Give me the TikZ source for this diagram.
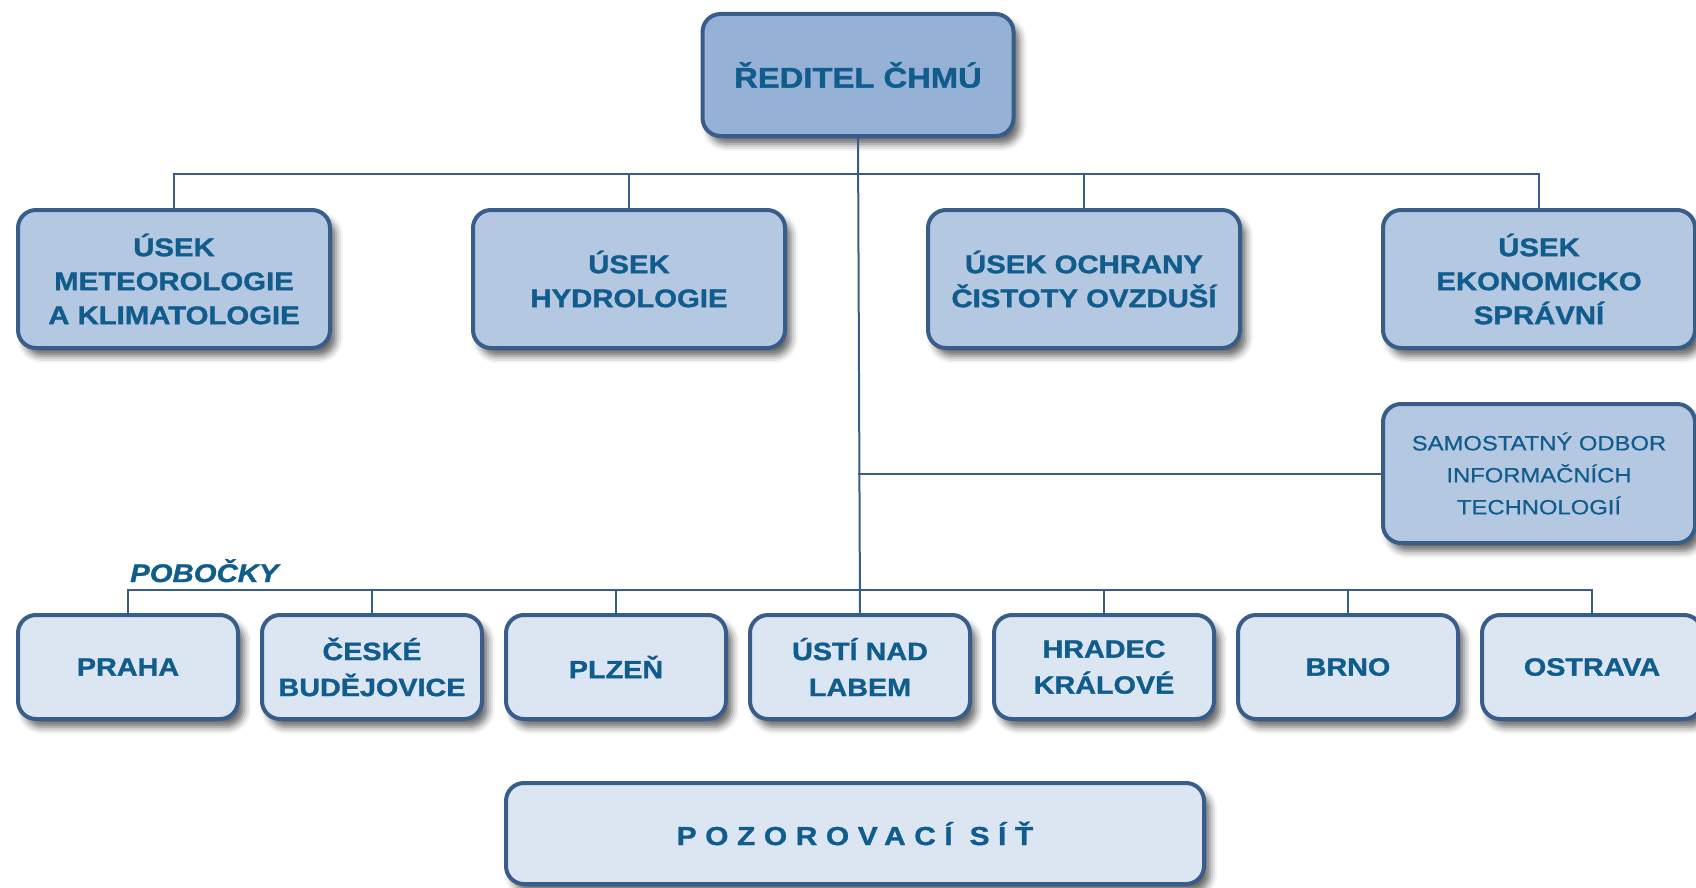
\documentclass[tikz,border=0pt]{standalone}
\usepackage{fontspec}
\setmainfont{Liberation Sans}[FakeStretch=1.15,BoldFeatures={FakeBold=1.2},
	BoldItalicFeatures={FakeBold=1.2}]
\usepackage{tikz}
\usetikzlibrary{positioning}
\usetikzlibrary{shadows.blur}

\definecolor{txtblue}{RGB}{16,92,140}
\definecolor{rimblue}{RGB}{56,93,138}
\definecolor{topfill}{RGB}{149,177,213}
\definecolor{midfill}{RGB}{181,200,225}
\definecolor{lowfill}{RGB}{220,230,242}

\begin{document}
\begin{tikzpicture}[x=1pt,y=-1pt,node distance=24pt,
	box/.style={rectangle,rounded corners=18pt,draw=rimblue,line width=4pt,
		inner sep=0pt,outer sep=0pt,align=center,text=txtblue,
		blur shadow={shadow xshift=6pt,shadow yshift=-8pt,shadow blur radius=7pt,shadow opacity=60}},
	top node/.style={box,fill=topfill,minimum width=311pt,minimum height=122pt,
		font=\bfseries\fontsize{28.5}{34}\selectfont},
	usek node/.style={box,fill=midfill,minimum width=312pt,minimum height=138pt,
		font=\bfseries\fontsize{25.5}{34}\selectfont},
	odbor node/.style={box,fill=midfill,minimum width=312pt,minimum height=139pt,
		font=\fontsize{20.7}{32}\selectfont\addfontfeature{FakeBold=0.6}},
	branch node/.style={box,fill=lowfill,minimum width=220pt,minimum height=104pt,
		font=\bfseries\fontsize{25}{36}\selectfont},
	link/.style={draw=rimblue,line width=2pt}]

	\useasboundingbox (0,0) rectangle (1696,888);

	\node[top node] (rd) at (858,75) {ŘEDITEL ČHMÚ};

	\node[usek node] (met) at (174,279) {ÚSEK\\METEOROLOGIE\\A KLIMATOLOGIE};
	\node[usek node] (hyd) [right=143pt of met] {ÚSEK\\HYDROLOGIE};
	\node[usek node] (och) [right=143pt of hyd] {ÚSEK OCHRANY\\ČISTOTY OVZDUŠÍ};
	\node[usek node] (eko) [right=143pt of och] {ÚSEK\\EKONOMICKO\\SPRÁVNÍ};
	\node[odbor node] (it) [below=56pt of eko] {SAMOSTATNÝ ODBOR\\INFORMAČNÍCH\\TECHNOLOGIÍ};

	\node[branch node] (praha) at (128,667) {PRAHA};
	\node[branch node] (ceske) [right=of praha] {ČESKÉ\\BUDĚJOVICE};
	\node[branch node] (plzen) [right=of ceske] {PLZEŇ};
	\node[branch node] (usti) [right=of plzen] {ÚSTÍ NAD\\LABEM};
	\node[branch node] (hradec) [right=of usti] {HRADEC\\KRÁLOVÉ};
	\node[branch node] (brno) [right=of hradec] {BRNO};
	\node[branch node] (ostrava) [right=of brno] {OSTRAVA};

	\node[text=txtblue,font=\bfseries\itshape\fontsize{25.5}{30}\selectfont,
		inner sep=0pt,anchor=base west] (pob) at (130,582) {POBOČKY};

	\node[box,fill=lowfill,minimum width=698pt,minimum height=101pt,
		font=\bfseries\fontsize{26}{30}\selectfont\addfontfeature{LetterSpace=33}]
		(sit) at (855,833.5) {POZOROVACÍ SÍŤ};

	\coordinate (hub) at (858,174);
	\coordinate (bus) at (858,590);

	\draw[link] (rd.south) -- (usti.north);
	\draw[link] (met.north) |- (hub) -| (eko.north);
	\foreach \n in {hyd,och}
		\draw[link] (\n.north) -- (\n.north |- hub);
	\draw[link] (hub |- it.west) -- (it.west);
	\draw[link] (praha.north) |- (bus) -| (ostrava.north);
	\foreach \n in {ceske,plzen,hradec,brno}
		\draw[link] (\n.north) -- (\n.north |- bus);
\end{tikzpicture}
\end{document}
